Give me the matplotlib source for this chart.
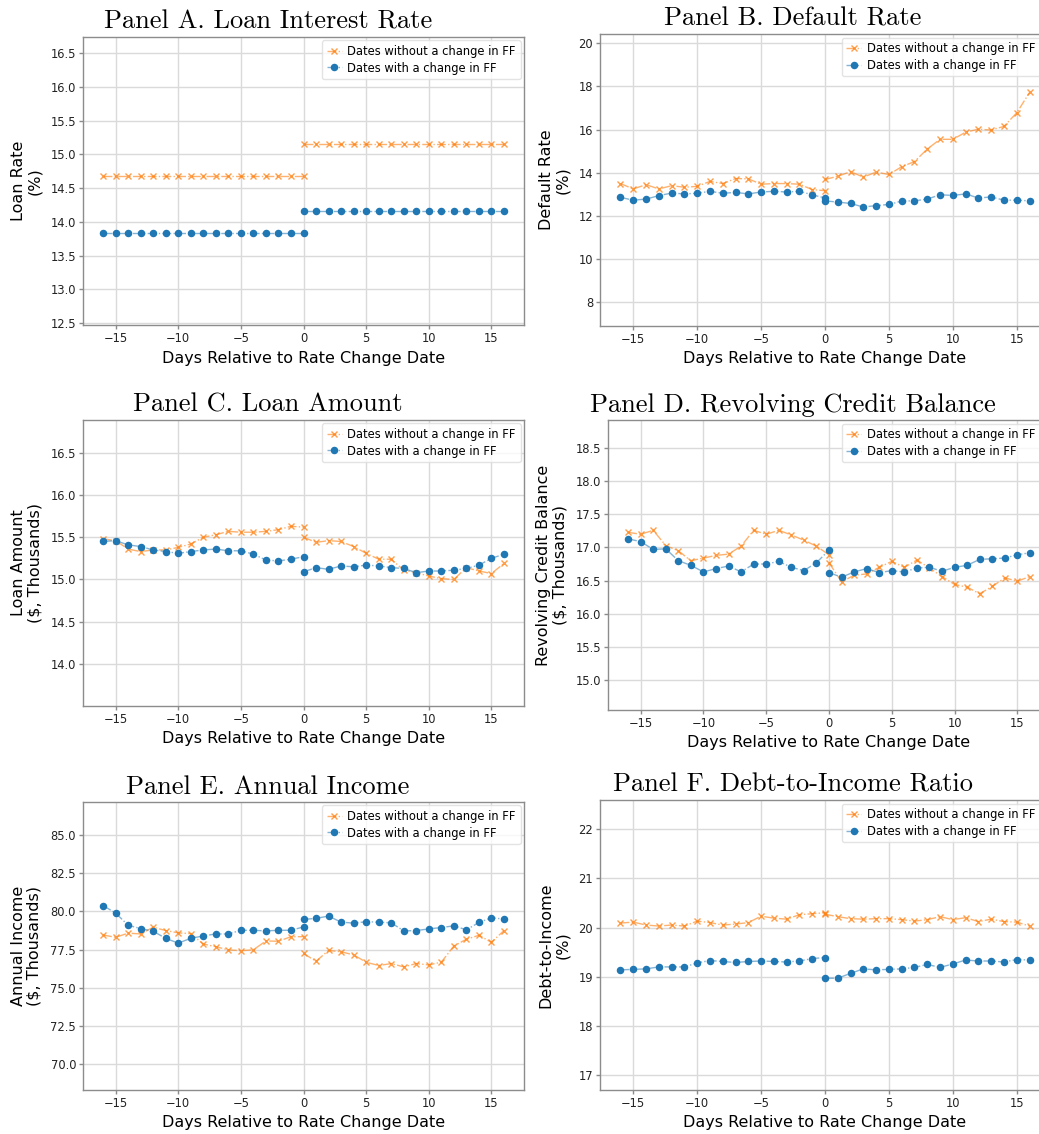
import matplotlib
matplotlib.use("Agg")
import matplotlib.pyplot as plt
import numpy as np

# ---------------- data ----------------
days_pre = list(range(-16, 1))
days_post = list(range(0, 17))

titles = ["Panel A. Loan Interest Rate", "Panel B. Default Rate",
          "Panel C. Loan Amount", "Panel D. Revolving Credit Balance",
          "Panel E. Annual Income", "Panel F. Debt-to-Income Ratio"]
ylabels = ["Loan Rate\n(%)", "Default Rate\n(%)", "Loan Amount\n(\\$, Thousands)",
           "Revolving Credit Balance\n(\\$, Thousands)", "Annual Income\n(\\$, Thousands)",
           "Debt-to-Income\n(%)"]
xlabel = "Days Relative to Rate Change Date"
legend_labels = ["Dates without a change in FF", "Dates with a change in FF"]

# Panel A
a_noff_pre = [14.68] * 17
a_noff_post = [15.16] * 17
a_ff_pre = [13.83] * 17
a_ff_post = [14.16] * 17

# Panel B
b_noff_pre = [13.50, 13.25, 13.45, 13.25, 13.40, 13.33, 13.37, 13.60, 13.50, 13.73,
              13.72, 13.47, 13.50, 13.50, 13.47, 13.22, 13.17]
b_noff_post = [13.69, 13.84, 14.05, 13.80, 14.03, 13.92, 14.28, 14.52, 15.10, 15.55,
               15.55, 15.88, 16.02, 15.98, 16.15, 16.78, 17.72]
b_ff_pre = [12.86, 12.73, 12.78, 12.94, 13.06, 13.02, 13.05, 13.14, 13.05, 13.09,
            13.02, 13.11, 13.14, 13.11, 13.14, 12.98, 12.83]
b_ff_post = [12.70, 12.64, 12.58, 12.41, 12.48, 12.53, 12.69, 12.70, 12.78, 12.98,
             12.95, 13.02, 12.83, 12.88, 12.73, 12.73, 12.70]

# Panel C
c_noff_pre = [15.48, 15.46, 15.36, 15.33, 15.35, 15.35, 15.38, 15.42, 15.50, 15.53,
              15.57, 15.56, 15.56, 15.57, 15.59, 15.63, 15.62]
c_noff_post = [15.50, 15.44, 15.46, 15.45, 15.39, 15.31, 15.24, 15.24, 15.11, 15.08,
               15.04, 15.01, 15.00, 15.14, 15.10, 15.07, 15.19]
c_ff_pre = [15.45, 15.46, 15.41, 15.39, 15.35, 15.33, 15.31, 15.33, 15.35, 15.36,
            15.34, 15.34, 15.30, 15.23, 15.22, 15.24, 15.27]
c_ff_post = [15.09, 15.14, 15.12, 15.16, 15.15, 15.17, 15.16, 15.14, 15.13, 15.08,
             15.10, 15.10, 15.11, 15.13, 15.17, 15.25, 15.30]

# Panel D
d_noff_pre = [17.23, 17.20, 17.26, 17.03, 16.95, 16.80, 16.84, 16.88, 16.90, 17.02,
              17.26, 17.20, 17.26, 17.19, 17.11, 17.02, 16.89]
d_noff_post = [16.77, 16.48, 16.58, 16.60, 16.70, 16.79, 16.70, 16.81, 16.69, 16.56,
               16.44, 16.40, 16.30, 16.41, 16.54, 16.49, 16.56]
d_ff_pre = [17.13, 17.09, 16.97, 16.98, 16.80, 16.73, 16.63, 16.68, 16.72, 16.63,
            16.75, 16.75, 16.79, 16.70, 16.65, 16.77, 16.96]
d_ff_post = [16.62, 16.55, 16.63, 16.68, 16.62, 16.65, 16.63, 16.69, 16.70, 16.64,
             16.70, 16.73, 16.82, 16.83, 16.84, 16.89, 16.92]

# Panel E
e_noff_pre = [78.45, 78.30, 78.57, 78.52, 78.96, 78.74, 78.59, 78.54, 77.86, 77.68,
              77.48, 77.42, 77.48, 78.06, 78.04, 78.34, 78.34]
e_noff_post = [77.24, 76.73, 77.44, 77.35, 77.15, 76.67, 76.45, 76.58, 76.36, 76.58,
               76.49, 76.67, 77.73, 78.17, 78.43, 77.97, 78.74]
e_ff_pre = [80.38, 79.89, 79.09, 78.87, 78.70, 78.23, 77.92, 78.23, 78.39, 78.52,
            78.52, 78.76, 78.76, 78.72, 78.76, 78.76, 78.98]
e_ff_post = [79.47, 79.54, 79.69, 79.29, 79.23, 79.32, 79.29, 79.25, 78.72, 78.74,
             78.85, 78.94, 79.05, 78.79, 79.27, 79.58, 79.49]

# Panel F
f_noff_pre = [20.09, 20.11, 20.05, 20.03, 20.05, 20.03, 20.13, 20.10, 20.05, 20.07,
              20.10, 20.23, 20.19, 20.17, 20.26, 20.28, 20.30]
f_noff_post = [20.27, 20.22, 20.18, 20.17, 20.18, 20.18, 20.16, 20.13, 20.16, 20.22,
               20.16, 20.20, 20.12, 20.17, 20.12, 20.11, 20.03]
f_ff_pre = [19.14, 19.15, 19.16, 19.20, 19.20, 19.20, 19.28, 19.33, 19.31, 19.29,
            19.31, 19.32, 19.31, 19.30, 19.32, 19.37, 19.39]
f_ff_post = [18.97, 18.97, 19.07, 19.16, 19.14, 19.15, 19.16, 19.19, 19.25, 19.19,
             19.26, 19.34, 19.32, 19.32, 19.30, 19.35, 19.34]

panels = [
    (a_noff_pre, a_noff_post, a_ff_pre, a_ff_post),
    (b_noff_pre, b_noff_post, b_ff_pre, b_ff_post),
    (c_noff_pre, c_noff_post, c_ff_pre, c_ff_post),
    (d_noff_pre, d_noff_post, d_ff_pre, d_ff_post),
    (e_noff_pre, e_noff_post, e_ff_pre, e_ff_post),
    (f_noff_pre, f_noff_post, f_ff_pre, f_ff_post),
]

ylims = [(12.47, 16.74), (6.9, 20.43), (13.5, 16.89), (14.54, 18.93), (68.3, 87.16), (16.7, 22.59)]
yticks = [np.arange(12.5, 16.51, 0.5), np.arange(8, 20.1, 2), np.arange(14.0, 16.51, 0.5),
          np.arange(15.0, 18.51, 0.5), np.arange(70.0, 85.1, 2.5), np.arange(17, 22.1, 1)]

# ---------------- layout (pixels) ----------------
W, H = 1039, 1134
boxes = [(83, 37, 524, 325), (600, 34, 1050, 326),
         (83, 420, 524, 706), (608, 420, 1050, 710),
         (83, 802, 524, 1090), (600, 800, 1050, 1090)]
title_cx = [268, 793, 268, 793, 268, 793]

fig = plt.figure(figsize=(W / 100, H / 100), dpi=100)
fig.patch.set_facecolor("white")

blue = "#1f77b4"
o_line = (1.0, 0.498, 0.055, 0.6)
o_mark = (1.0, 0.498, 0.055, 0.75)
b_line = (0.122, 0.467, 0.706, 0.55)

for i, (l, t, r, b) in enumerate(boxes):
    ax = fig.add_axes([l / W, 1 - b / H, (r - l) / W, (b - t) / H])
    nofpre, nofpost, ffpre, ffpost = panels[i]
    ax.plot(days_pre, nofpre, color=o_line, ls="-.", lw=1.0, marker="x", ms=5,
            mec=o_mark, mew=1.0, label=legend_labels[0])
    ax.plot(days_post, nofpost, color=o_line, ls="-.", lw=1.0, marker="x", ms=5,
            mec=o_mark, mew=1.0)
    ax.plot(days_pre, ffpre, color=b_line, ls="-.", lw=1.0, marker="o", ms=4.4,
            mec=blue, mfc=blue, label=legend_labels[1])
    ax.plot(days_post, ffpost, color=b_line, ls="-.", lw=1.0, marker="o", ms=4.4,
            mec=blue, mfc=blue)
    ax.set_xlim(-17.6, 17.6)
    ax.set_ylim(*ylims[i])
    ax.set_xticks([-15, -10, -5, 0, 5, 10, 15])
    ax.set_yticks(yticks[i])
    ax.grid(True, color="#dadada", lw=1.0)
    ax.set_axisbelow(True)
    for s in ax.spines.values():
        s.set_color("#8c8c8c")
        s.set_linewidth(1.0)
    ax.tick_params(labelsize=8.3, length=3, width=1, pad=2, color="#8c8c8c",
                   labelcolor="#222222")
    ax.set_xlabel(xlabel, fontsize=11.5, labelpad=4)
    ax.set_ylabel(ylabels[i], fontsize=11.5, labelpad=6, linespacing=1.1)
    cx = (title_cx[i] - l) / (r - l)
    ax.set_title(titles[i], fontname="cmr10", fontsize=19, x=cx, pad=6)
    if r > W:
        anchor = ((W + 1 - l) / (r - l), 1 - 3.5 / (b - t))
        leg = ax.legend(loc="upper right", bbox_to_anchor=anchor, fontsize=8.3,
                        frameon=True, borderpad=0.4, handlelength=1.3,
                        handletextpad=0.5, labelspacing=0.3, borderaxespad=0.0)
    else:
        leg = ax.legend(loc="upper right", fontsize=8.3, frameon=True, borderpad=0.4,
                        handlelength=1.3, handletextpad=0.5, labelspacing=0.3,
                        borderaxespad=0.3)
    leg.get_frame().set_edgecolor("#dddddd")

fig.savefig("out.png", dpi=100, facecolor="white")
